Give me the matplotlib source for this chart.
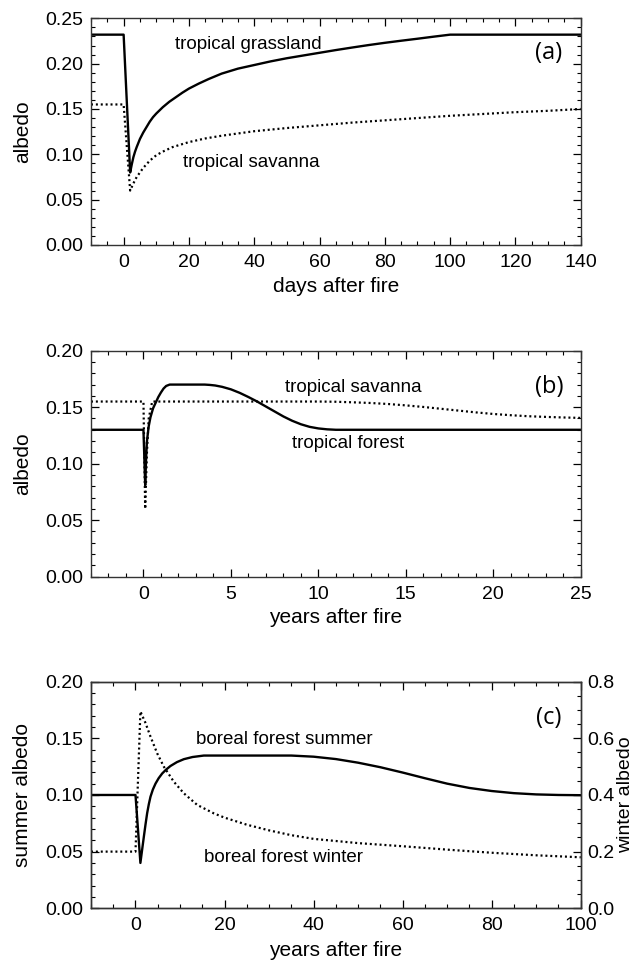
import matplotlib
matplotlib.use('Agg')
import matplotlib.pyplot as plt
from matplotlib.ticker import MultipleLocator, FormatStrFormatter

plt.rcParams['font.family'] = ['Liberation Sans', 'DejaVu Sans']

# (a) tropical grassland / savanna, days after fire
grass_days = [-10, 0, 2, 2.5, 3, 3.5, 4, 5, 6, 7, 8, 9, 10, 12, 14, 16, 18, 20, 23, 26, 30, 35,
              40, 45, 50, 55, 60, 65, 70, 75, 80, 85, 90, 95, 100, 140]
grass_alb = [0.232, 0.232, 0.080, 0.089, 0.097, 0.103, 0.108, 0.117, 0.124, 0.130, 0.136, 0.141,
             0.145, 0.152, 0.158, 0.163, 0.168, 0.1725, 0.178, 0.183, 0.189, 0.1945, 0.1985,
             0.2025, 0.206, 0.209, 0.212, 0.215, 0.2178, 0.2205, 0.223, 0.2253, 0.2275, 0.2298,
             0.232, 0.232]
sav_days = [-10, 0, 2, 3, 4, 5, 6, 7, 8, 10, 12, 15, 20, 25, 30, 40, 50, 60, 70, 80, 90, 100,
            110, 120, 130, 140]
sav_alb = [0.155, 0.155, 0.060, 0.068, 0.075, 0.080, 0.085, 0.089, 0.093, 0.099, 0.103, 0.108,
           0.1135, 0.1175, 0.1205, 0.1255, 0.129, 0.132, 0.135, 0.1375, 0.140, 0.1425, 0.1445,
           0.1465, 0.148, 0.150]

# (b) tropical forest / savanna, years after fire
forest_yrs = [-3, 0, 0.1, 0.15, 0.2, 0.3, 0.4, 0.55, 0.7, 0.85, 1.0, 1.15, 1.3, 1.5, 3.5, 3.8,
              4.1, 4.5, 5.0, 5.5, 6.0, 6.5, 7.0, 7.5, 8.0, 8.5, 9.0, 9.5, 10.0, 10.5, 11.0, 25]
forest_alb = [0.130, 0.130, 0.081, 0.104, 0.120, 0.133, 0.141, 0.149, 0.154, 0.159, 0.163,
              0.1665, 0.1688, 0.170, 0.170, 0.1697, 0.1692, 0.168, 0.1658, 0.1627, 0.159,
              0.155, 0.1506, 0.1462, 0.1418, 0.1380, 0.1349, 0.1326, 0.1312, 0.1304, 0.1300,
              0.130]
savb_yrs = [-3, 0, 0.1, 0.2, 0.3, 0.5, 10, 11, 12, 13, 14, 15, 16, 17, 18, 19, 20, 21, 22, 23,
            24, 25]
savb_alb = [0.155, 0.155, 0.060, 0.110, 0.140, 0.155, 0.155, 0.1548, 0.1543, 0.1537, 0.1528,
            0.1516, 0.1502, 0.1486, 0.1470, 0.1454, 0.1440, 0.1429, 0.1420, 0.1414, 0.1409,
            0.1405]

# (c) boreal forest, summer (left axis) and winter (right axis)
summer_yrs = [-10, 0, 1.1, 1.5, 1.87, 2.25, 2.62, 3.0, 3.37, 3.9, 4.49, 5.2, 6.0, 6.9, 7.86,
              9.3, 10.86, 12.8, 15.35, 35, 40, 45, 50, 55, 60, 65, 70, 75, 80, 85, 90, 95, 100]
summer_alb = [0.100, 0.100, 0.040, 0.052, 0.063, 0.074, 0.084, 0.092, 0.0985, 0.1048, 0.110,
              0.1148, 0.119, 0.1225, 0.1256, 0.1290, 0.1316, 0.1335, 0.1348, 0.1348, 0.1338,
              0.1317, 0.1285, 0.1245, 0.1198, 0.1148, 0.110, 0.1062, 0.1035, 0.1016, 0.1005,
              0.100, 0.0998]
winter_yrs = [-10, 0, 1.1, 2.25, 3.37, 4.87, 6.36, 8.6, 10.85, 13.85, 17.6, 20, 25, 30, 35, 40,
              50, 60, 70, 80, 90, 100]
winter_alb = [0.20, 0.20, 0.695, 0.654, 0.606, 0.547, 0.500, 0.447, 0.406, 0.365, 0.335, 0.32,
              0.295, 0.275, 0.258, 0.245, 0.230, 0.219, 0.207, 0.196, 0.187, 0.180]

DOT = (0, (0.9, 1.3))
DOT_LW = 1.6
LW = 1.7
TICK_FS = 14
LABEL_FS = 15
NOTE_FS = 13.5


def style_axis(ax, xmaj, xmin, ymaj, ymin, right=True):
    ax.xaxis.set_major_locator(MultipleLocator(xmaj))
    ax.xaxis.set_minor_locator(MultipleLocator(xmin))
    ax.yaxis.set_major_locator(MultipleLocator(ymaj))
    ax.yaxis.set_minor_locator(MultipleLocator(ymin))
    ax.yaxis.set_major_formatter(FormatStrFormatter('%.2f'))
    ax.tick_params(which='both', direction='in', top=True, right=right, labelsize=TICK_FS)
    ax.tick_params(which='major', length=6, width=0.9)
    ax.tick_params(which='minor', length=3, width=0.8)
    ax.tick_params(axis='x', pad=6.5)
    ax.tick_params(axis='y', pad=5.5)
    for s in ax.spines.values():
        s.set_linewidth(1.0)
        s.set_color('#333333')


fig = plt.figure(figsize=(6.38, 9.6), dpi=100)

# panel (a)
ax1 = fig.add_axes([0.1426, 0.7448, 0.7676, 0.2361])
ax1.plot(grass_days, grass_alb, color='black', lw=LW)
ax1.plot(sav_days, sav_alb, color='black', lw=DOT_LW, linestyle=DOT)
ax1.set_xlim(-10, 140)
ax1.set_ylim(0, 0.25)
style_axis(ax1, 20, 5, 0.05, 0.01)
ax1.set_xlabel('days after fire', fontsize=LABEL_FS)
ax1.set_ylabel('albedo', fontsize=LABEL_FS)
ax1.xaxis.set_label_coords(0.5, -0.14)
ax1.yaxis.set_label_coords(-0.121, 0.5)
ax1.text(15.7, 0.221, 'tropical grassland', fontsize=NOTE_FS, va='center')
ax1.text(18.2, 0.091, 'tropical savanna', fontsize=NOTE_FS, va='center')
ax1.text(0.935, 0.845, '(a)', transform=ax1.transAxes, fontsize=17,
         family='Open Sans', ha='center', va='center')

# panel (b)
ax2 = fig.add_axes([0.1426, 0.3993, 0.7676, 0.2354])
ax2.plot(forest_yrs, forest_alb, color='black', lw=LW)
ax2.plot(savb_yrs, savb_alb, color='black', lw=DOT_LW, linestyle=DOT)
ax2.set_xlim(-3, 25)
ax2.set_ylim(0, 0.20)
style_axis(ax2, 5, 1, 0.05, 0.01)
ax2.set_xlabel('years after fire', fontsize=LABEL_FS)
ax2.set_ylabel('albedo', fontsize=LABEL_FS)
ax2.xaxis.set_label_coords(0.5, -0.14)
ax2.yaxis.set_label_coords(-0.121, 0.5)
ax2.text(8.1, 0.167, 'tropical savanna', fontsize=NOTE_FS, va='center')
ax2.text(8.5, 0.118, 'tropical forest', fontsize=NOTE_FS, va='center')
ax2.text(0.935, 0.841, '(b)', transform=ax2.transAxes, fontsize=17,
         family='Open Sans', ha='center', va='center')

# panel (c)
ax3 = fig.add_axes([0.1426, 0.0539, 0.7676, 0.2360])
ax3.plot(summer_yrs, summer_alb, color='black', lw=LW)
ax3.set_xlim(-10, 100)
ax3.set_ylim(0, 0.20)
style_axis(ax3, 20, 5, 0.05, 0.01, right=False)
ax3.set_xlabel('years after fire', fontsize=LABEL_FS)
ax3.set_ylabel('summer albedo', fontsize=LABEL_FS)
ax3.xaxis.set_label_coords(0.5, -0.145)
ax3.yaxis.set_label_coords(-0.121, 0.5)
ax3.text(13.7, 0.1486, 'boreal forest summer', fontsize=NOTE_FS, va='center')
ax3.text(15.4, 0.045, 'boreal forest winter', fontsize=NOTE_FS, va='center')
ax3.text(0.935, 0.838, '(c)', transform=ax3.transAxes, fontsize=17,
         family='Open Sans', ha='center', va='center')

ax4 = ax3.twinx()
ax4.plot(winter_yrs, winter_alb, color='black', lw=DOT_LW, linestyle=DOT)
ax4.set_ylim(0, 0.8)
ax4.yaxis.set_major_locator(MultipleLocator(0.2))
ax4.yaxis.set_minor_locator(MultipleLocator(0.05))
ax4.yaxis.set_major_formatter(FormatStrFormatter('%.1f'))
ax4.tick_params(which='both', direction='in', labelsize=TICK_FS, pad=4.5)
ax4.tick_params(which='major', length=6, width=0.9)
ax4.tick_params(which='minor', length=3, width=0.8)
ax4.set_ylabel('winter albedo', fontsize=14)
ax4.yaxis.set_label_coords(1.074, 0.5)
for s in ax4.spines.values():
    s.set_linewidth(1.0)
    s.set_color('#333333')

fig.savefig('out.png', dpi=100)
